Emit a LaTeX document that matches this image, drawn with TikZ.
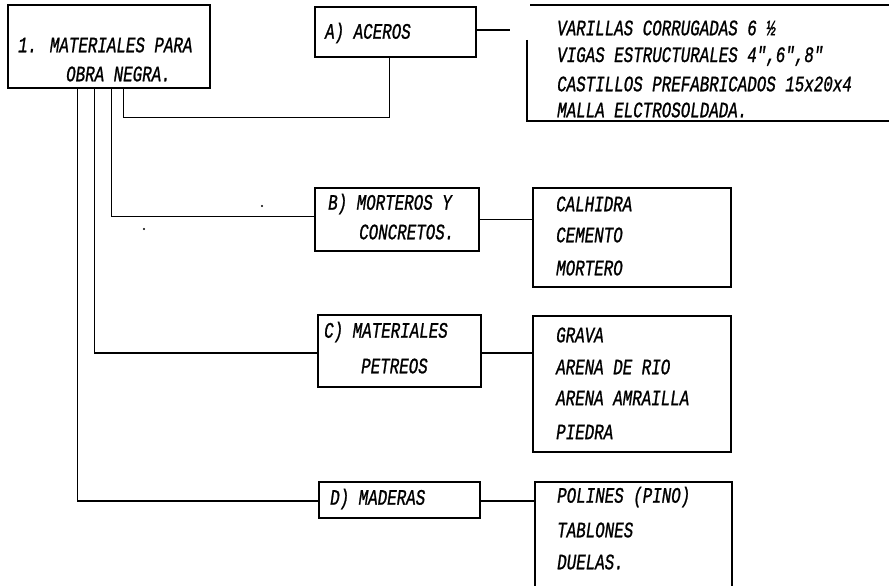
\documentclass[tikz,border=0pt]{standalone}
\usepackage{fontspec}
\newfontfamily\handfont[FakeStretch=0.72,FakeBold=1]{Liberation Mono}
\begin{document}
\begin{tikzpicture}[x=1pt,y=-1pt,
  box/.style={draw, rectangle, inner sep=0pt, line width=1.2pt},
  lbl/.style={font=\handfont\itshape\fontsize{22}{24}\selectfont, anchor=west, inner sep=0pt},
  wire/.style={draw, line width=1.2pt}]
\useasboundingbox (0,0) rectangle (889,586);
\fill[white] (0,0) rectangle (889,586);

% boxes
\node[box, minimum width=202pt, minimum height=83pt] (main) at (109,46.5) {};
\node[box, minimum width=161pt, minimum height=50pt] (A) at (395.5,32) {};
\node[box, minimum width=164pt, minimum height=63pt] (B) at (397,219.5) {};
\node[box, minimum width=198pt, minimum height=99pt] (BL) at (632,237.5) {};
\node[box, minimum width=163pt, minimum height=72pt] (C) at (399.5,351) {};
\node[box, minimum width=198pt, minimum height=136pt] (CL) at (632,384) {};
\node[box, minimum width=161pt, minimum height=36pt] (D) at (399.5,500) {};
\node[box, minimum width=197pt, minimum height=138pt] (DL) at (633.5,551) {};

% open list frame for A
\coordinate (ALtl) at (530,5);
\coordinate (ALtr) at (889,5);
\coordinate (ALl) at (527,40);
\coordinate (ALbl) at (527,121);
\coordinate (ALbr) at (889,121);
\draw[wire] (ALtl) -- (ALtr);
\draw[wire] (ALl) -- (ALbl) -- (ALbr);

% texts
\node[lbl] (t1) at (18,45) {1. MATERIALES PARA};
\node[lbl] (t2) at (66,74) {OBRA NEGRA.};
\node[lbl] (ta) at (325,33) {A) ACEROS};
\node[lbl] (ta1) at (557,28) {VARILLAS CORRUGADAS 6 ½};
\node[lbl] (ta2) at (557,56) {VIGAS ESTRUCTURALES 4",6",8"};
\node[lbl] (ta3) at (557,84) {CASTILLOS PREFABRICADOS 15x20x4};
\node[lbl] (ta4) at (557,110) {MALLA ELCTROSOLDADA.};
\node[lbl] (tb1) at (328,204) {B) MORTEROS Y};
\node[lbl] (tb2) at (359,232) {CONCRETOS.};
\node[lbl] (tbl1) at (556,204) {CALHIDRA};
\node[lbl] (tbl2) at (556,235) {CEMENTO};
\node[lbl] (tbl3) at (556,268) {MORTERO};
\node[lbl] (tc1) at (324,332) {C) MATERIALES};
\node[lbl] (tc2) at (361,366) {PETREOS};
\node[lbl] (tcl1) at (556,335) {GRAVA};
\node[lbl] (tcl2) at (556,367) {ARENA DE RIO};
\node[lbl] (tcl3) at (556,398) {ARENA AMRAILLA};
\node[lbl] (tcl4) at (556,432) {PIEDRA};
\node[lbl] (td) at (330,499) {D) MADERAS};
\node[lbl] (tdl1) at (557,497) {POLINES (PINO)};
\node[lbl] (tdl2) at (557,530) {TABLONES};
\node[lbl] (tdl3) at (557,562) {DUELAS.};

% connectors
\draw[wire] ([xshift=116pt]main.south west) -- ++(0,29) -| ([xshift=75pt]A.south west);
\draw[wire] ([xshift=104pt]main.south west) |- ([yshift=3pt]B.west);
\draw[wire] ([xshift=87pt]main.south west) |- ([yshift=-2pt]C.west);
\draw[wire] ([xshift=70pt]main.south west) |- ([yshift=-1pt]D.west);
\coordinate (Aend) at (510,30);
\draw[wire] (A.east |- Aend) -- (Aend);
\draw[wire] ([yshift=0pt]B.east) -- (B.east -| BL.west);
\draw[wire] ([yshift=-2pt]C.east) -- ([yshift=-2pt]C.east -| CL.west);
\draw[wire] ([yshift=-1pt]D.east) -- ([yshift=-1pt]D.east -| DL.west);

% specks
\fill (262,206) circle (1.1pt);
\fill (144,229) circle (1.1pt);
\end{tikzpicture}
\end{document}
